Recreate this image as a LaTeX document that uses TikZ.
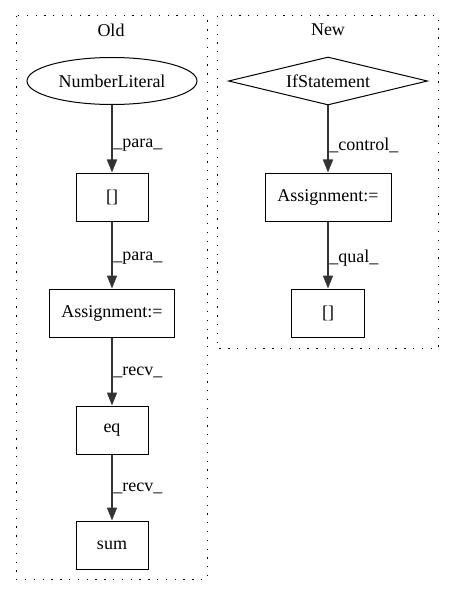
\documentclass[tikz,border=0pt]{standalone}
\usepackage{fontspec}
\setmainfont{Liberation Serif}
\usetikzlibrary{shapes.geometric,arrows.meta}

\tikzset{
    box/.style={draw,line width=1pt,minimum width=72pt,minimum height=48pt,inner sep=0pt},
    edge/.style={line width=1.6pt,black!80,-{Triangle[length=13pt,width=10pt]}},
    elabel/.style={anchor=west,inner sep=0.5pt,black},
    cluster/.style={line width=1pt,dash pattern=on 1.3pt off 7.5pt}
}

\begin{document}
\begin{tikzpicture}[x=1pt,y=-1pt,font=\fontsize{18}{22}\selectfont]
    \useasboundingbox (0,0) rectangle (453,596);
    % Old
    \draw[cluster] (16,16) rectangle (207,579);
    \node (oldtitle) at (111,30) {Old};
    \node[ellipse,draw,line width=1pt,minimum width=170pt,minimum height=47pt,inner sep=0pt] (numlit) at (112,81) {NumberLiteral};
    \node[box] (oldidx) at (112,197) {[]};
    \node[box,minimum width=125pt] (oldassign) at (112,313) {Assignment:=};
    \node[box] (eq) at (112,430) {eq};
    \node[box] (sum) at (112,545) {sum};
    \draw[edge] (numlit) -- (oldidx) node[elabel,pos=0.59]{\_para\_};
    \draw[edge] (oldidx) -- (oldassign) node[elabel,pos=0.54]{\_para\_};
    \draw[edge] (oldassign) -- (eq) node[elabel,pos=0.52]{\_recv\_};
    \draw[edge] (eq) -- (sum) node[elabel,pos=0.51]{\_recv\_};
    % New
    \draw[cluster] (217,16) rectangle (438,348);
    \node (newtitle) at (328,30) {New};
    \node[diamond,draw,line width=1pt,aspect=4,minimum width=199pt,minimum height=48pt,inner sep=0pt] (ifstmt) at (328,81) {IfStatement};
    \node[box,minimum width=126pt] (newassign) at (328,197) {Assignment:=};
    \node[box,minimum width=73pt] (newidx) at (328,313) {[]};
    \draw[edge] (ifstmt) -- (newassign) node[elabel,pos=0.59]{\_control\_};
    \draw[edge] (newassign) -- (newidx) node[elabel,pos=0.54]{\_qual\_};
\end{tikzpicture}
\end{document}
